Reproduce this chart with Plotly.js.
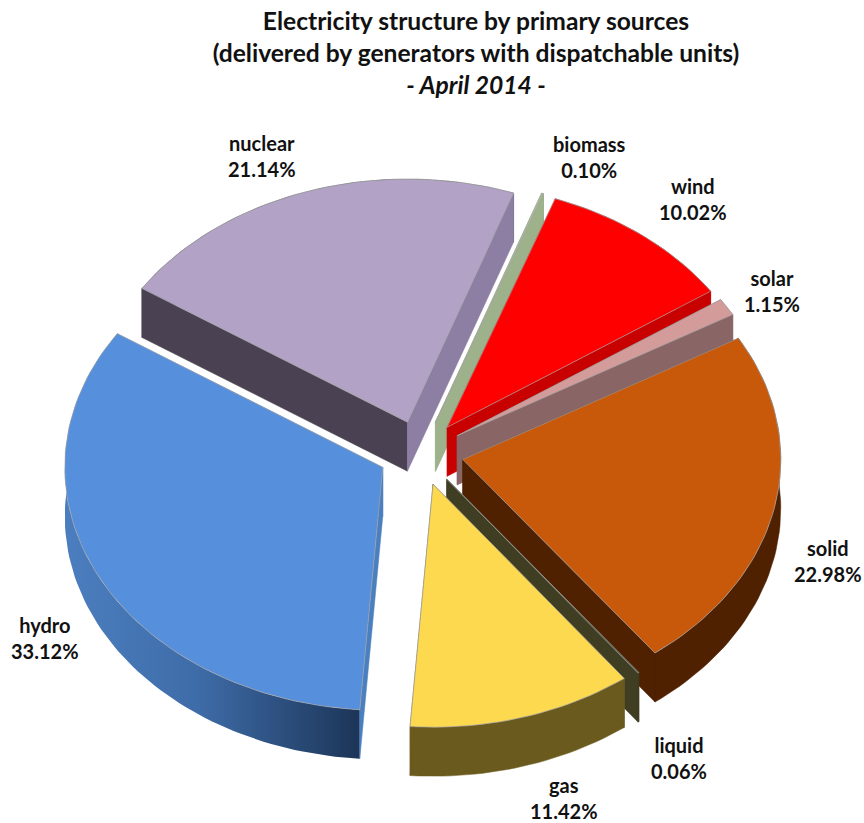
<!DOCTYPE html>
<html>
<head>
<meta charset="utf-8">
<script src="https://cdn.plot.ly/plotly-3.0.1.min.js"></script>
<style>html,body{margin:0;padding:0;background:#fff}</style>
</head>
<body>
<div id="chart" style="width:864px;height:823px"></div>
<script>
// Electricity mix, April 2014, clockwise from the top of the pie
const categories = ['biomass', 'wind', 'solar', 'solid', 'liquid', 'gas', 'hydro', 'nuclear'];
const shares = [0.10, 10.02, 1.15, 22.98, 0.06, 11.42, 33.12, 21.14];
const topColors = ['#a9bd95', '#ff0000', '#d39c9b', '#c8590b', '#4a4826', '#fdd94f', '#568fdb', '#b1a2c6'];
const rimColors = ['#6f7d5f', '#a00000', '#8a6566', '#4f2100', '#3f3d22', '#6b5a1e', '#3d6cab', '#4a4152'];
const startFaceColors = ['#9db28a', '#c00000', '#8a6566', '#4f2100', '#3f3d22', '#6b5a1e', '#4a7fc0', '#4a4152'];
const endFaceColors = ['#9db28a', '#c80000', '#8a6566', '#4f2100', '#3f3d22', '#6b5a1e', '#4a7fc0', '#8c7fa3'];
const paintOrder = ['nuclear', 'biomass', 'wind', 'solar', 'solid', 'liquid', 'gas', 'hydro'];
const labelSpots = [[589, 157], [693, 199], [772, 291], [828, 561], [679, 758], [564, 798], [45, 638], [262, 156]];

// Tilted-disc geometry, in plot units
const firstAngle = 19.5, centerX = 421, centerY = 453, radiusX = 318, radiusY = 243, depth = 49, pull = 0.134;
const total = shares.reduce((a, b) => a + b, 0);

const rad = d => d * Math.PI / 180;
const onDisc = (deg, r, ox, oy) => [ox + r * radiusX * Math.sin(rad(deg)), oy - r * radiusY * Math.cos(rad(deg))];

function arc(from, to, ox, oy) {
  const pts = [];
  const n = Math.max(2, Math.ceil((to - from) / 1.5));
  for (let i = 0; i <= n; i++) pts.push(onDisc(from + (to - from) * i / n, 1, ox, oy));
  return pts;
}

function polygon(pts, color, extra) {
  return Object.assign({
    type: 'scatter', mode: 'lines', fill: 'toself', fillcolor: color,
    x: pts.map(p => p[0]), y: pts.map(p => p[1]),
    line: {color: color, width: 0.5}, hoverinfo: 'skip', showlegend: false
  }, extra || {});
}

// Angular extent of every slice
let running = firstAngle;
const spans = {};
categories.forEach((name, i) => {
  const sweep = shares[i] / total * 360;
  spans[name] = {from: running, to: running + sweep, index: i};
  running += sweep;
});

const traces = [];
paintOrder.forEach(name => {
  const {from, to, index} = spans[name];
  const mid = (from + to) / 2;
  const [ax, ay] = onDisc(mid, pull, centerX, centerY);
  const rim = arc(from, to, ax, ay);
  const first = rim[0], last = rim[rim.length - 1];
  const drop = p => [p[0], p[1] + depth];

  // Outer wall first, then the two cut faces, then the top surface
  const shell = rim.concat(rim.slice().reverse().map(drop));
  shell.push(rim[0]);
  const extra = name === 'hydro' ? {
    fillgradient: {type: 'horizontal', start: 60, stop: 365,
      colorscale: [[0, '#4c7fc0'], [0.45, '#3e6ca8'], [1, '#1b3355']]},
    line: {color: 'rgba(0,0,0,0)', width: 0}
  } : {};
  traces.push(polygon(shell, rimColors[index], extra));

  traces.push(polygon([[ax, ay], first, drop(first), [ax, ay + depth], [ax, ay]], startFaceColors[index]));
  traces.push(polygon([[ax, ay], last, drop(last), [ax, ay + depth], [ax, ay]], endFaceColors[index]));

  const top = [[ax, ay]].concat(rim, [[ax, ay]]);
  traces.push(polygon(top, topColors[index], {line: {color: '#a3a3a3', width: 0.7}}));
});

const labels = categories.map((name, i) => ({
  x: labelSpots[i][0], y: labelSpots[i][1], xref: 'x', yref: 'y',
  text: name + '<br>' + shares[i].toFixed(2) + '%',
  showarrow: false, align: 'center',
  font: {family: 'Lato, Carlito, sans-serif', size: 20, color: '#111', weight: 700}
}));

const layout = {
  width: 864, height: 823,
  margin: {l: 0, r: 0, t: 0, b: 0},
  paper_bgcolor: '#fff', plot_bgcolor: '#fff',
  showlegend: false,
  title: {
    text: '<b>Electricity structure by primary sources<br>(delivered by generators with dispatchable units)<br><i>- April 2014 -</i></b>',
    x: 476 / 864, xanchor: 'center', y: 0.964, yanchor: 'middle',
    font: {family: 'Lato, Carlito, sans-serif', size: 24.6, color: '#111'}
  },
  xaxis: {range: [0, 864], visible: false, fixedrange: true},
  yaxis: {range: [823, 0], visible: false, fixedrange: true},
  annotations: labels
};

Plotly.newPlot('chart', traces, layout, {displayModeBar: false, staticPlot: true});
</script>
</body>
</html>
